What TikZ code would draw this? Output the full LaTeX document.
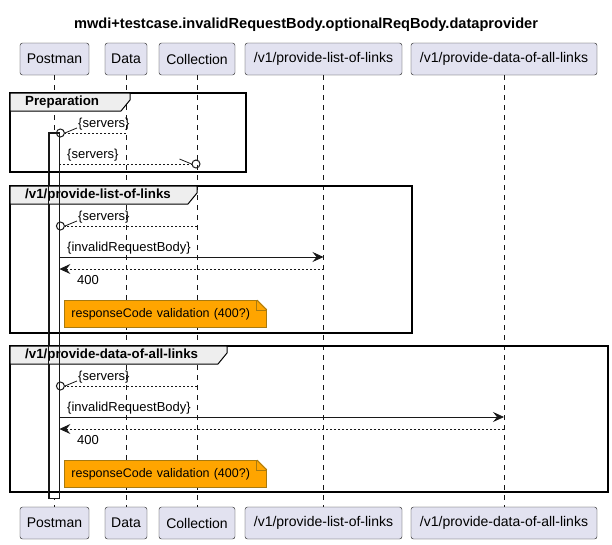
\documentclass[tikz,border=0pt]{standalone}
\usepackage{fontspec}
\setmainfont{Liberation Sans}
\usetikzlibrary{arrows.meta}
\definecolor{actorfill}{HTML}{E2E2F0}
\definecolor{linecol}{HTML}{181818}
\definecolor{tabfill}{HTML}{EEEEEE}
\definecolor{notefill}{HTML}{FFA500}
\definecolor{noteline}{HTML}{A87A10}
\tikzset{
    actor-box/.style = {draw=linecol, fill=actorfill, rounded corners=2.5pt, minimum height=32pt, inner xsep=0pt, font=\fontsize{14}{16}\selectfont},
    life-line/.style = {draw=linecol, line width=0.5pt, dash pattern=on 5pt off 5pt},
    act-bar/.style = {draw=linecol, line width=0.8pt, minimum width=10pt, inner sep=0pt},
    group-frame/.style = {draw=black, line width=1.5pt},
    group-tab/.style = {draw=black, fill=tabfill, line width=1pt},
    group-title/.style = {font=\bfseries\fontsize{13.3}{15}\selectfont, anchor=west, inner sep=0pt},
    msg-text/.style = {font=\fontsize{13}{15}\selectfont, anchor=base west, inner sep=0pt},
    msg-call/.style = {draw=linecol, line width=0.8pt, -{Stealth[length=11pt, width=10pt, inset=4pt]}},
    msg-back/.style = {msg-call, dash pattern=on 2pt off 2pt},
    msg-dash/.style = {draw=linecol, line width=0.8pt, dash pattern=on 2pt off 2pt},
    half-tip/.style = {draw=linecol, line width=0.8pt},
    tip-circle/.style = {circle, draw=linecol, line width=1pt, minimum size=8pt, inner sep=0pt},
    note-box/.style = {draw=noteline, fill=notefill, line width=0.8pt, anchor=north west, minimum height=27pt, text width=188pt, inner xsep=7pt, align=left, font=\fontsize{12.5}{15}\selectfont},
}

\begin{document}
\begin{tikzpicture}[x=1pt, y=-1pt]
\useasboundingbox (0,0) rectangle (612,544);
\node[font=\bfseries\fontsize{14.6}{17}\selectfont] (title) at (306,24.5) {mwdi+testcase.invalidRequestBody.optionalReqBody.dataprovider};

% participants
\node[actor-box, minimum width=69pt] (postman-top) at (54.5,59) {Postman};
\node[actor-box, minimum width=42pt] (data-top) at (126,59) {Data};
\node[actor-box, minimum width=76pt] (collection-top) at (197,59) {Collection};
\node[actor-box, minimum width=157pt] (list-top) at (323.5,59) {/v1/provide-list-of-links};
\node[actor-box, minimum width=186pt] (allinks-top) at (504,59) {/v1/provide-data-of-all-links};

\node[actor-box, minimum width=69pt] (postman-bot) at (54.5,523) {Postman};
\node[actor-box, minimum width=42pt] (data-bot) at (126,523) {Data};
\node[actor-box, minimum width=76pt] (collection-bot) at (197,523) {Collection};
\node[actor-box, minimum width=157pt] (list-bot) at (323.5,523) {/v1/provide-list-of-links};
\node[actor-box, minimum width=186pt] (allinks-bot) at (504,523) {/v1/provide-data-of-all-links};

% lifelines
\draw[life-line] (postman-top) -- (postman-bot);
\draw[life-line] (data-top) -- (data-bot);
\draw[life-line] (collection-top) -- (collection-bot);
\draw[life-line] (list-top) -- (list-bot);
\draw[life-line] (allinks-top) -- (allinks-bot);

\node[act-bar, fill=white, minimum height=365pt] (postman-act) at (54,315.5) {};

% groups
\draw[group-frame] (10,93) rectangle (246,172);
\draw[group-tab] (10,93) -- (130,93) -- (130,100) -- (121,111) -- (10,111) -- cycle;
\node[group-title] (prep-title) at (25,102.5) {Preparation};

\draw[group-frame] (10,186) rectangle (412,333);
\draw[group-tab] (10,186) -- (197,186) -- (197,193) -- (188,204) -- (10,204) -- cycle;
\node[group-title] (list-title) at (25,195.5) {/v1/provide-list-of-links};

\draw[group-frame] (10,346) rectangle (608,492);
\draw[group-tab] (10,346) -- (227,346) -- (227,353) -- (218,364) -- (10,364) -- cycle;
\node[group-title] (allinks-title) at (25,355.5) {/v1/provide-data-of-all-links};

\draw[linecol, line width=0.8pt] (postman-act.north west) rectangle (postman-act.south east);

% Preparation
\node[tip-circle] (srv-in1) at ([xshift=1pt]postman-act.east |- 0,133) {};
\draw[msg-dash] (data-top |- srv-in1) -- (srv-in1.east);
\draw[half-tip] (srv-in1.east) -- ++(12,-5);
\node[msg-text] (srv-lbl1) at (78,127.5) {\{servers\}};

\node[tip-circle] (srv-out) at ([xshift=-1pt]collection-top |- 0,164) {};
\draw[msg-dash] (postman-act.east |- srv-out) -- (srv-out.west);
\draw[half-tip] (srv-out.west) -- ++(-12,-5);
\node[msg-text] (srv-lbl2) at (67,158.5) {\{servers\}};

% /v1/provide-list-of-links
\node[tip-circle] (srv-in2) at ([xshift=1pt]postman-act.east |- 0,226) {};
\draw[msg-dash] (collection-top |- srv-in2) -- (srv-in2.east);
\draw[half-tip] (srv-in2.east) -- ++(12,-5);
\node[msg-text] (srv-lbl3) at (78,220.5) {\{servers\}};

\draw[msg-call] (postman-act.east |- 0,257) -- (list-top |- 0,257);
\node[msg-text] (req-lbl1) at (67,251.5) {\{invalidRequestBody\}};
\draw[msg-back] (list-top |- 0,269) -- (postman-act.east |- 0,269);
\node[msg-text] (code-lbl1) at (77,284) {400};

\node[note-box] (note-list) at (64,300) {responseCode validation (400?)};
\fill[white] ([xshift=-10pt, yshift=1pt]note-list.north east) -- ([xshift=1pt, yshift=1pt]note-list.north east) -- ([xshift=1pt, yshift=-10pt]note-list.north east) -- cycle;
\draw[noteline, line width=0.8pt] ([xshift=-10pt]note-list.north east) -- ([yshift=-10pt]note-list.north east);
\draw[noteline, line width=0.8pt] ([xshift=-10pt]note-list.north east) |- ([yshift=-10pt]note-list.north east);

% /v1/provide-data-of-all-links
\node[tip-circle] (srv-in3) at ([xshift=1pt]postman-act.east |- 0,386) {};
\draw[msg-dash] (collection-top |- srv-in3) -- (srv-in3.east);
\draw[half-tip] (srv-in3.east) -- ++(12,-5);
\node[msg-text] (srv-lbl4) at (78,380.5) {\{servers\}};

\draw[msg-call] (postman-act.east |- 0,417) -- (allinks-top |- 0,417);
\node[msg-text] (req-lbl2) at (67,411.5) {\{invalidRequestBody\}};
\draw[msg-back] (allinks-top |- 0,429) -- (postman-act.east |- 0,429);
\node[msg-text] (code-lbl2) at (77,444) {400};

\node[note-box] (note-allinks) at (64,460) {responseCode validation (400?)};
\fill[white] ([xshift=-10pt, yshift=1pt]note-allinks.north east) -- ([xshift=1pt, yshift=1pt]note-allinks.north east) -- ([xshift=1pt, yshift=-10pt]note-allinks.north east) -- cycle;
\draw[noteline, line width=0.8pt] ([xshift=-10pt]note-allinks.north east) -- ([yshift=-10pt]note-allinks.north east);
\draw[noteline, line width=0.8pt] ([xshift=-10pt]note-allinks.north east) |- ([yshift=-10pt]note-allinks.north east);
\end{tikzpicture}
\end{document}
